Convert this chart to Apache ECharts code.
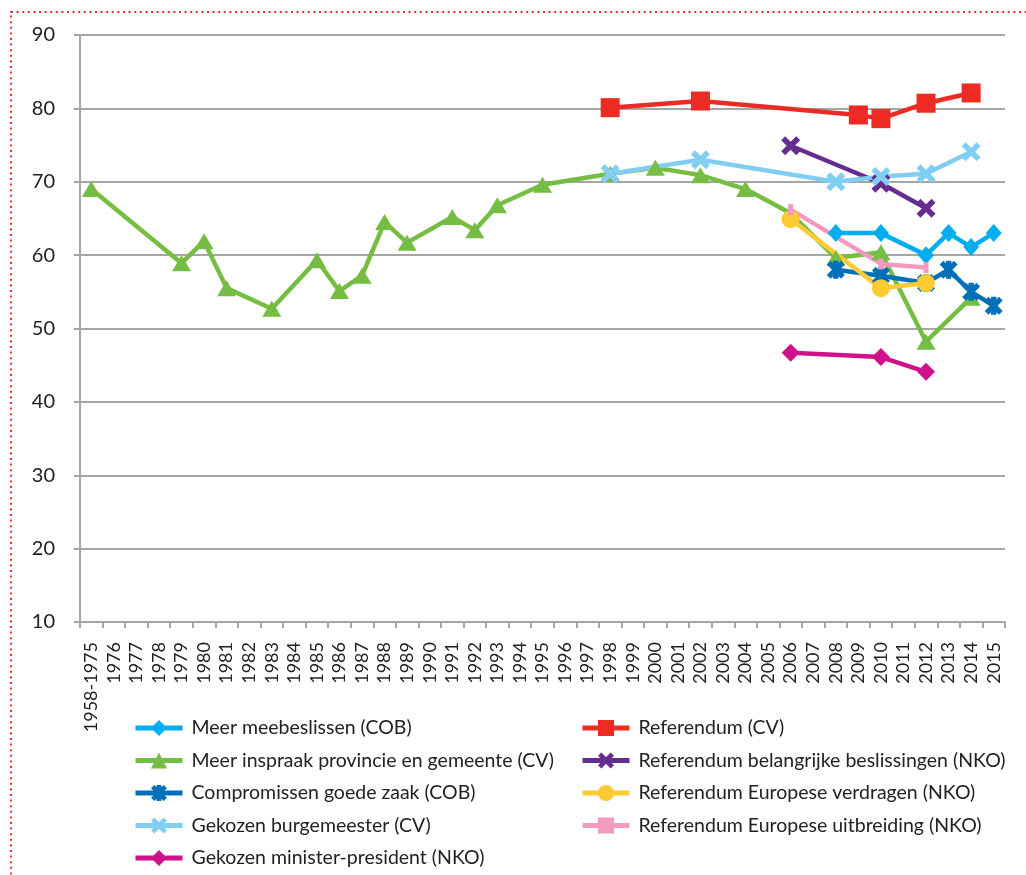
<!DOCTYPE html>
<html>
<head>
<meta charset="utf-8">
<script src="https://cdn.jsdelivr.net/npm/echarts@6/dist/echarts.min.js"></script>
<style>
  html, body { margin: 0; padding: 0; background: #fff; }
  #main { width: 1026px; height: 875px; }
</style>
</head>
<body>
<div id="main"></div>
<script>
// categories on the x axis
var years = ['1958-1975', '1976', '1977', '1978', '1979', '1980', '1981', '1982', '1983', '1984',
    '1985', '1986', '1987', '1988', '1989', '1990', '1991', '1992', '1993', '1994', '1995', '1996',
    '1997', '1998', '1999', '2000', '2001', '2002', '2003', '2004', '2005', '2006', '2007', '2008',
    '2009', '2010', '2011', '2012', '2013', '2014', '2015'];

// values, [year, percentage]
var meerMeebeslissen = [['2008', 63.0], ['2010', 63.0], ['2012', 60.0], ['2013', 63.0], ['2014', 61.1], ['2015', 63.0]];
var referendumCV = [['1998', 80.1], ['2002', 81.0], ['2009', 79.1], ['2010', 78.6], ['2012', 80.7], ['2014', 82.1]];
var meerInspraak = [['1958-1975', 69.0], ['1979', 58.9], ['1980', 61.9], ['1981', 55.5], ['1983', 52.7],
    ['1985', 59.3], ['1986', 55.1], ['1987', 57.2], ['1988', 64.5], ['1989', 61.7], ['1991', 65.2],
    ['1992', 63.4], ['1993', 66.8], ['1995', 69.6], ['1998', 71.1], ['2000', 71.9], ['2002', 70.9],
    ['2004', 69.0], ['2006', 65.7], ['2008', 59.6], ['2010', 60.4], ['2012', 48.2], ['2014', 54.2]];
var refBelangrijk = [['2006', 74.9], ['2010', 69.8], ['2012', 66.4]];
var compromissen = [['2008', 58.0], ['2010', 57.2], ['2012', 56.2], ['2013', 58.0], ['2014', 55.0], ['2015', 53.1]];
var refVerdragen = [['2006', 64.9], ['2010', 55.5], ['2012', 56.2]];
var gekozenBurgemeester = [['1998', 71.1], ['2002', 73.0], ['2008', 70.0], ['2010', 70.7], ['2012', 71.1], ['2014', 74.1]];
var refUitbreiding = [['2006', 66.2], ['2010', 58.8], ['2012', 58.3]];
var gekozenMP = [['2006', 46.7], ['2010', 46.1], ['2012', 44.1]];

var FONT = 'Lato';

// marker shapes
var xMark = 'path://M0,21L21,0L100,79L79,100ZM79,0L100,21L21,100L0,79Z';
var starMark = 'path://M0,21L21,0L100,79L79,100ZM79,0L100,21L21,100L0,79ZM35,0L65,0L65,100L35,100Z';

function lineSeries(name, data, color, symbol, size) {
    return {
        name: name,
        type: 'line',
        data: data,
        symbol: symbol,
        symbolSize: size,
        lineStyle: { color: color, width: 4.5 },
        itemStyle: { color: color },
        emphasis: { disabled: true },
        animation: false
    };
}

function legendBox(left, names) {
    return {
        orient: 'vertical',
        left: left,
        top: 717,
        padding: 0,
        itemWidth: 47,
        itemHeight: 20,
        itemGap: 10.5,
        lineStyle: { width: 5 },
        textStyle: { fontFamily: FONT, fontSize: 19.5, color: '#222', lineHeight: 22, padding: [0, 0, 0, 4] },
        data: names
    };
}

var myChart = echarts.init(document.getElementById('main'));

var option = {
    backgroundColor: '#fff',
    graphic: [{
        type: 'rect',
        z: -10,
        shape: { x: 11, y: 12, width: 1100, height: 1000 },
        style: { fill: 'none', stroke: '#e8312f', lineWidth: 2, lineDash: [2, 3.6] }
    }],
    grid: { left: 80, right: 21, top: 35, bottom: 253 },
    legend: [
        legendBox(133, ['Meer meebeslissen (COB)', 'Meer inspraak provincie en gemeente (CV)',
            'Compromissen goede zaak (COB)', 'Gekozen burgemeester (CV)', 'Gekozen minister-president (NKO)']),
        legendBox(580, ['Referendum (CV)', 'Referendum belangrijke beslissingen (NKO)',
            'Referendum Europese verdragen (NKO)', 'Referendum Europese uitbreiding (NKO)'])
    ],
    xAxis: {
        type: 'category',
        data: years,
        boundaryGap: true,
        axisLine: { lineStyle: { color: '#a6a6a6', width: 2 } },
        axisTick: { show: true, length: 6, lineStyle: { color: '#a6a6a6', width: 2 } },
        axisLabel: { interval: 0, rotate: 90, margin: 20, fontFamily: FONT, fontSize: 18, color: '#222' },
        splitLine: { show: false }
    },
    yAxis: {
        type: 'value',
        min: 10,
        max: 90,
        interval: 10,
        axisLine: { show: true, lineStyle: { color: '#a6a6a6', width: 2 } },
        axisTick: { show: true, length: 6, lineStyle: { color: '#a6a6a6', width: 2 } },
        axisLabel: { margin: 25, fontFamily: FONT, fontSize: 20, color: '#222' },
        splitLine: { lineStyle: { color: '#a6a6a6', width: 2 } }
    },
    series: [
        lineSeries('Meer meebeslissen (COB)', meerMeebeslissen, '#00aeef', 'diamond', [16, 18]),
        lineSeries('Referendum (CV)', referendumCV, '#ee2a24', 'rect', 19),
        lineSeries('Meer inspraak provincie en gemeente (CV)', meerInspraak, '#76bd43', 'triangle', [19, 16]),
        lineSeries('Referendum belangrijke beslissingen (NKO)', refBelangrijk, '#662d91', xMark, 19),
        lineSeries('Compromissen goede zaak (COB)', compromissen, '#0070b8', starMark, 18),
        lineSeries('Referendum Europese verdragen (NKO)', refVerdragen, '#ffcb31', 'circle', 18),
        lineSeries('Gekozen burgemeester (CV)', gekozenBurgemeester, '#80cff2', xMark, 19),
        lineSeries('Referendum Europese uitbreiding (NKO)', refUitbreiding, '#f49ac1', 'rect', [5, 11]),
        lineSeries('Gekozen minister-president (NKO)', gekozenMP, '#d0118c', 'diamond', [18, 18])
    ]
};

myChart.setOption(option);
</script>
</body>
</html>
